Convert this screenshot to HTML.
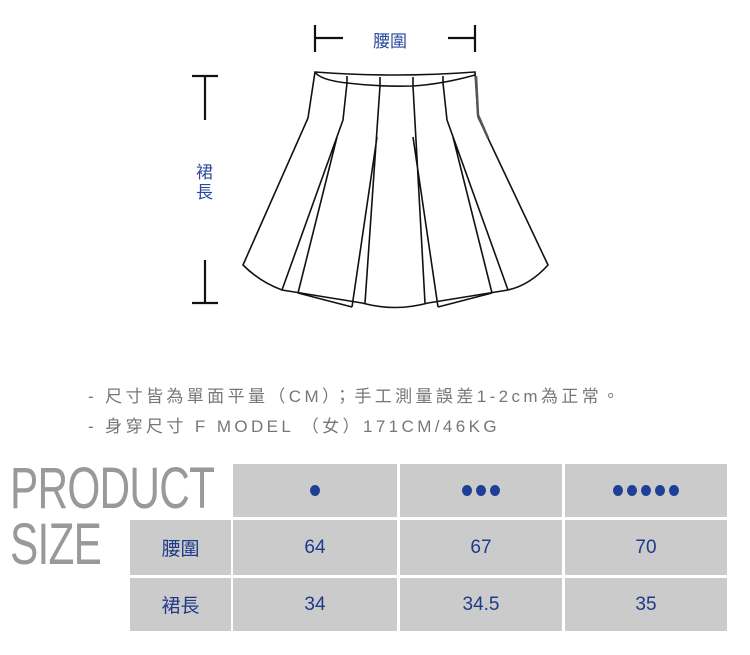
<!DOCTYPE html>
<html><head><meta charset="utf-8"><style>
body{margin:0;width:750px;height:655px;background:#fff;position:relative;overflow:hidden;font-family:"Liberation Sans","Noto Sans CJK TC",sans-serif}
.a{position:absolute}
.note{color:#777;font-size:17px;left:88px;letter-spacing:3.4px;white-space:nowrap}
.big{color:#999;font-size:58px;left:10px;transform-origin:0 0;transform:scaleX(.73);white-space:nowrap;letter-spacing:-1px}
.c{position:absolute;background:#cbcbcb;color:#1f3a8a;font-size:19px;display:flex;align-items:center;justify-content:center}
.c i{display:inline-block;width:10px;height:11px;border-radius:50%;background:#1f3f96;margin:0 2px}
</style></head><body>
<svg class="a" style="left:0;top:0" width="750" height="340" fill="none" stroke="#111" stroke-width="1.6">
<g stroke-width="2.2">
<path d="M315 25V52M315 38H343M475 25V52M448 38H475"/>
<path d="M192 76H218M205 76V120M205 260V303M192 303H218"/>
</g>
<path fill="#fff" d="M315 72Q395 78 475 72L478 117L548 265Q530 285 508 290L428 303Q395 312 362 303L282 290Q260 282 243 265L308 118Z"/>
<path d="M315 72Q320 80 347 83Q380 87 413 86Q443 84 475 75"/>
<path d="M347 76V83M380 77V86M413 77V86M443 76V83"/>
<path d="M347 83L343 120L282 290M337 137L298 293M380 86L365 303M377 137L352 307"/>
<path d="M443 83L447 120L508 290M453 137L492 293M413 86L425 303M413 137L438 307"/>
<path d="M298 293L352 307M438 307L492 293"/>
<path stroke="#555" stroke-width="2.5" d="M476 76L478 115L488 138"/>
</svg>
<div class="a" style="left:373px;top:27px;color:#2a4a9a;font-size:17px">腰圍</div>
<div class="a" style="left:196px;top:163px;color:#2a4a9a;font-size:17px;line-height:20px;width:20px">裙<br>長</div>
<div class="a note" style="top:382px">- 尺寸皆為單面平量（CM）；手工測量誤差1-2cm為正常。</div>
<div class="a note" style="top:412px">- 身穿尺寸 F MODEL （女）171CM/46KG</div>
<div class="a big" style="top:455px">PRODUCT</div>
<div class="a big" style="top:511px">SIZE</div>
<div class="c" style="left:233px;top:464px;width:164px;height:53px"><i></i></div>
<div class="c" style="left:400px;top:464px;width:162px;height:53px"><i></i><i></i><i></i></div>
<div class="c" style="left:565px;top:464px;width:162px;height:53px"><i></i><i></i><i></i><i></i><i></i></div>
<div class="c" style="left:130px;top:520px;width:101px;height:55px">腰圍</div>
<div class="c" style="left:233px;top:520px;width:164px;height:55px">64</div>
<div class="c" style="left:400px;top:520px;width:162px;height:55px">67</div>
<div class="c" style="left:565px;top:520px;width:162px;height:55px">70</div>
<div class="c" style="left:130px;top:578px;width:101px;height:53px">裙長</div>
<div class="c" style="left:233px;top:578px;width:164px;height:53px">34</div>
<div class="c" style="left:400px;top:578px;width:162px;height:53px">34.5</div>
<div class="c" style="left:565px;top:578px;width:162px;height:53px">35</div>
</body></html>
